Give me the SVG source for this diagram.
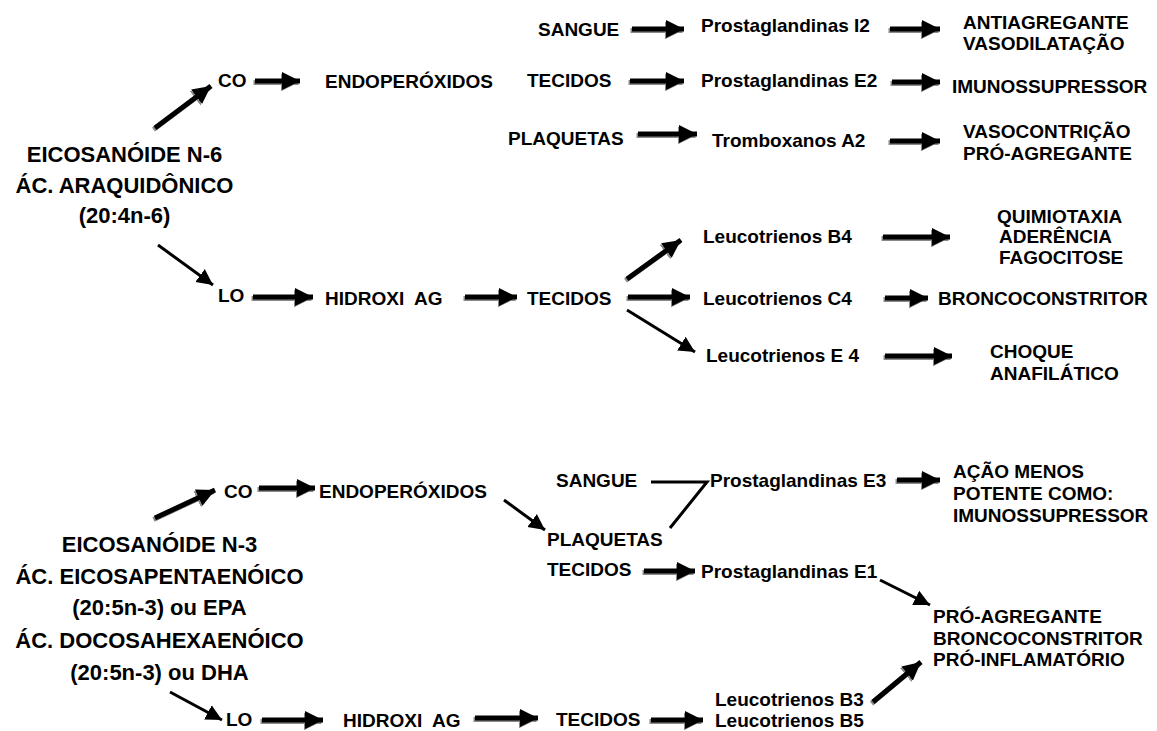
<svg xmlns="http://www.w3.org/2000/svg" width="1157" height="731" viewBox="0 0 1157 731">
<style>
text{font-family:"Liberation Sans",Arial,sans-serif;font-weight:bold;fill:#000}
.b{font-size:22px}
.m{font-size:19px}
.c{text-anchor:middle}
.t{stroke:#000;stroke-width:5;fill:none}
.s{stroke:#8a8a8a;stroke-width:5;fill:none}
.n{stroke:#000;stroke-width:3;fill:none}
</style>
<defs>
<marker id="h" markerUnits="userSpaceOnUse" markerWidth="20" markerHeight="20" refX="18" refY="10" orient="auto"><path d="M0,1 L18,10 L0,19 Z" fill="#000"/></marker>
<marker id="hs" markerUnits="userSpaceOnUse" markerWidth="20" markerHeight="20" refX="18" refY="10" orient="auto"><path d="M0,1 L18,10 L0,19 Z" fill="#8a8a8a"/></marker>
<marker id="hn" markerUnits="userSpaceOnUse" markerWidth="18" markerHeight="18" refX="16" refY="9" orient="auto"><path d="M0,1 L16,9 L0,17 Z" fill="#000"/></marker>
</defs>
<rect width="1157" height="731" fill="#fff"/>
<g id="connectors">
<g transform="translate(-1.5,1.5)">
<line class="s" marker-end="url(#hs)" x1="155" y1="128" x2="211" y2="86"/>
<line class="s" marker-end="url(#hs)" x1="255" y1="81" x2="300" y2="81"/>
<line class="s" marker-end="url(#hs)" x1="632" y1="29" x2="684" y2="29"/>
<line class="s" marker-end="url(#hs)" x1="890" y1="29" x2="940" y2="29"/>
<line class="s" marker-end="url(#hs)" x1="630" y1="81" x2="684" y2="81"/>
<line class="s" marker-end="url(#hs)" x1="892" y1="82" x2="940" y2="82"/>
<line class="s" marker-end="url(#hs)" x1="638" y1="134" x2="697" y2="134"/>
<line class="s" marker-end="url(#hs)" x1="890" y1="141" x2="940" y2="141"/>
<line class="s" marker-end="url(#hs)" x1="253" y1="297" x2="313" y2="297"/>
<line class="s" marker-end="url(#hs)" x1="465" y1="297" x2="517" y2="297"/>
<line class="s" marker-end="url(#hs)" x1="627" y1="279" x2="681" y2="240"/>
<line class="s" marker-end="url(#hs)" x1="628" y1="297" x2="690" y2="297"/>
<line class="s" marker-end="url(#hs)" x1="883" y1="237" x2="950" y2="237"/>
<line class="s" marker-end="url(#hs)" x1="885" y1="298" x2="928" y2="298"/>
<line class="s" marker-end="url(#hs)" x1="885" y1="356" x2="952" y2="356"/>
<line class="s" marker-end="url(#hs)" x1="155" y1="518" x2="215" y2="490"/>
<line class="s" marker-end="url(#hs)" x1="259" y1="488" x2="315" y2="488"/>
<line class="s" marker-end="url(#hs)" x1="897" y1="480" x2="940" y2="480"/>
<line class="s" marker-end="url(#hs)" x1="644" y1="571" x2="695" y2="571"/>
<line class="s" marker-end="url(#hs)" x1="873" y1="702" x2="921" y2="662"/>
<line class="s" marker-end="url(#hs)" x1="262" y1="720" x2="323" y2="720"/>
<line class="s" marker-end="url(#hs)" x1="475" y1="718" x2="538" y2="718"/>
<line class="s" marker-end="url(#hs)" x1="651" y1="720" x2="703" y2="720"/>
</g>
<line class="t" marker-end="url(#h)" x1="155" y1="128" x2="211" y2="86"/>
<line class="t" marker-end="url(#h)" x1="255" y1="81" x2="300" y2="81"/>
<line class="t" marker-end="url(#h)" x1="632" y1="29" x2="684" y2="29"/>
<line class="t" marker-end="url(#h)" x1="890" y1="29" x2="940" y2="29"/>
<line class="t" marker-end="url(#h)" x1="630" y1="81" x2="684" y2="81"/>
<line class="t" marker-end="url(#h)" x1="892" y1="82" x2="940" y2="82"/>
<line class="t" marker-end="url(#h)" x1="638" y1="134" x2="697" y2="134"/>
<line class="t" marker-end="url(#h)" x1="890" y1="141" x2="940" y2="141"/>
<line class="n" marker-end="url(#hn)" x1="158" y1="245" x2="213" y2="285"/>
<line class="t" marker-end="url(#h)" x1="253" y1="297" x2="313" y2="297"/>
<line class="t" marker-end="url(#h)" x1="465" y1="297" x2="517" y2="297"/>
<line class="t" marker-end="url(#h)" x1="627" y1="279" x2="681" y2="240"/>
<line class="t" marker-end="url(#h)" x1="628" y1="297" x2="690" y2="297"/>
<line class="n" marker-end="url(#hn)" x1="627" y1="310" x2="695" y2="352"/>
<line class="t" marker-end="url(#h)" x1="883" y1="237" x2="950" y2="237"/>
<line class="t" marker-end="url(#h)" x1="885" y1="298" x2="928" y2="298"/>
<line class="t" marker-end="url(#h)" x1="885" y1="356" x2="952" y2="356"/>
<line class="t" marker-end="url(#h)" x1="155" y1="518" x2="215" y2="490"/>
<line class="t" marker-end="url(#h)" x1="259" y1="488" x2="315" y2="488"/>
<line class="n" marker-end="url(#hn)" x1="504" y1="500" x2="545" y2="530"/>
<polyline class="n" points="651,482 707,482 670,528"/>
<line class="t" marker-end="url(#h)" x1="897" y1="480" x2="940" y2="480"/>
<line class="t" marker-end="url(#h)" x1="644" y1="571" x2="695" y2="571"/>
<line class="n" marker-end="url(#hn)" x1="880" y1="580" x2="930" y2="605"/>
<line class="t" marker-end="url(#h)" x1="873" y1="702" x2="921" y2="662"/>
<line class="n" marker-end="url(#hn)" x1="170" y1="692" x2="222" y2="720"/>
<line class="t" marker-end="url(#h)" x1="262" y1="720" x2="323" y2="720"/>
<line class="t" marker-end="url(#h)" x1="475" y1="718" x2="538" y2="718"/>
<line class="t" marker-end="url(#h)" x1="651" y1="720" x2="703" y2="720"/>
</g>
<g id="n6"><text class="b c" x="124.5" y="162">EICOSANÓIDE N-6</text><text class="b c" x="124.5" y="193">ÁC. ARAQUIDÔNICO</text><text class="b c" x="124.5" y="223">(20:4n-6)</text></g>
<g id="co1"><text class="m" x="218" y="87">CO</text></g>
<g id="endo1"><text class="m" x="325" y="88">ENDOPERÓXIDOS</text></g>
<g id="sangue1"><text class="m" x="538" y="36">SANGUE</text></g>
<g id="pgi2"><text class="m" x="701" y="32">Prostaglandinas I2</text></g>
<g id="antiag"><text class="m" x="963" y="29">ANTIAGREGANTE</text><text class="m" x="963" y="50">VASODILATAÇÃO</text></g>
<g id="tecidos1"><text class="m" x="527" y="87">TECIDOS</text></g>
<g id="pge2"><text class="m" x="701" y="87">Prostaglandinas E2</text></g>
<g id="imuno1"><text class="m" x="952" y="93">IMUNOSSUPRESSOR</text></g>
<g id="plaq1"><text class="m" x="508" y="145">PLAQUETAS</text></g>
<g id="txa2"><text class="m" x="712" y="147">Tromboxanos A2</text></g>
<g id="vasoc"><text class="m" x="963" y="138">VASOCONTRIÇÃO</text><text class="m" x="963" y="160">PRÓ-AGREGANTE</text></g>
<g id="lo1"><text class="m" x="218" y="302">LO</text></g>
<g id="hidroxi1"><text class="m" x="325" y="305" xml:space="preserve">HIDROXI  AG</text></g>
<g id="tecidos2"><text class="m" x="527" y="305">TECIDOS</text></g>
<g id="ltb4"><text class="m" x="703" y="243">Leucotrienos B4</text></g>
<g id="quimio"><text class="m" x="997" y="223">QUIMIOTAXIA</text><text class="m" x="999" y="243">ADERÊNCIA</text><text class="m" x="999" y="264">FAGOCITOSE</text></g>
<g id="ltc4"><text class="m" x="703" y="305">Leucotrienos C4</text></g>
<g id="bronco1"><text class="m" x="938" y="305">BRONCOCONSTRITOR</text></g>
<g id="lte4"><text class="m" x="706" y="362">Leucotrienos E 4</text></g>
<g id="choque"><text class="m" x="990" y="358">CHOQUE</text><text class="m" x="990" y="380">ANAFILÁTICO</text></g>
<g id="n3"><text class="b c" x="159.5" y="552">EICOSANÓIDE N-3</text><text class="b c" x="159.5" y="584">ÁC. EICOSAPENTAENÓICO</text><text class="b c" x="159.5" y="615">(20:5n-3) ou EPA</text><text class="b c" x="159.5" y="648">ÁC. DOCOSAHEXAENÓICO</text><text class="b c" x="159.5" y="680">(20:5n-3) ou DHA</text></g>
<g id="co2"><text class="m" x="224" y="498">CO</text></g>
<g id="endo2"><text class="m" x="319" y="498">ENDOPERÓXIDOS</text></g>
<g id="sangue2"><text class="m" x="556" y="487">SANGUE</text></g>
<g id="pge3"><text class="m" x="710" y="487">Prostaglandinas E3</text></g>
<g id="acao"><text class="m" x="953" y="478">AÇÃO MENOS</text><text class="m" x="953" y="500">POTENTE COMO:</text><text class="m" x="953" y="522">IMUNOSSUPRESSOR</text></g>
<g id="plaq2"><text class="m" x="547" y="546">PLAQUETAS</text></g>
<g id="tecidos3"><text class="m" x="547" y="576">TECIDOS</text></g>
<g id="pge1"><text class="m" x="701" y="578">Prostaglandinas E1</text></g>
<g id="proag"><text class="m" x="933" y="623">PRÓ-AGREGANTE</text><text class="m" x="933" y="645">BRONCOCONSTRITOR</text><text class="m" x="933" y="666">PRÓ-INFLAMATÓRIO</text></g>
<g id="ltb35"><text class="m" x="715" y="706">Leucotrienos B3</text><text class="m" x="715" y="727">Leucotrienos B5</text></g>
<g id="lo2"><text class="m" x="226" y="726">LO</text></g>
<g id="hidroxi2"><text class="m" x="343" y="727" xml:space="preserve">HIDROXI  AG</text></g>
<g id="tecidos4"><text class="m" x="556" y="726">TECIDOS</text></g>
</svg>
